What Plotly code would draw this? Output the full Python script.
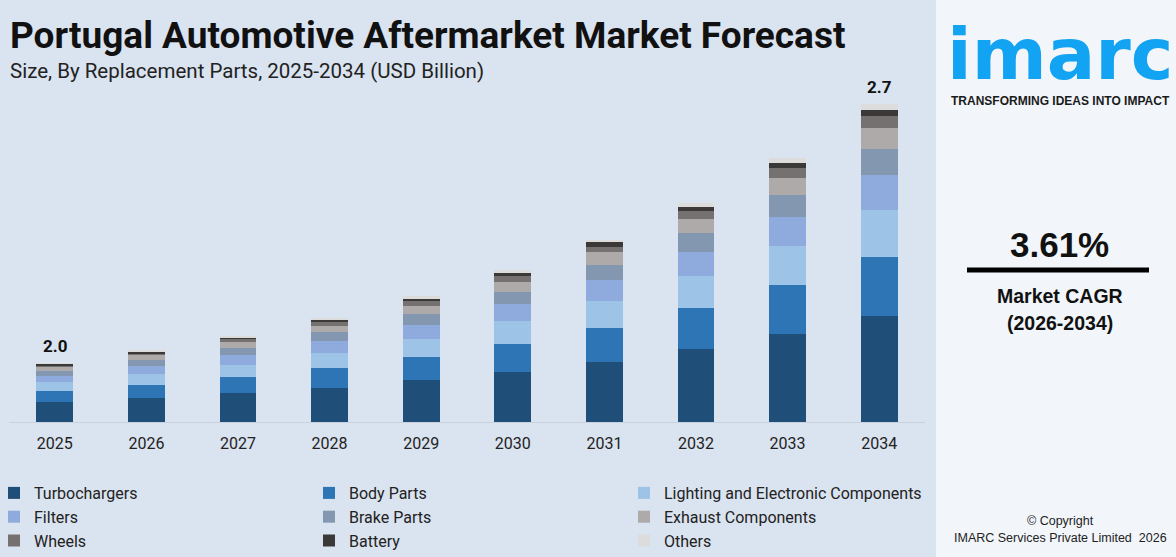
import plotly.graph_objects as go

W, H = 1176, 557

years = ["2025", "2026", "2027", "2028", "2029", "2030", "2031", "2032", "2033", "2034"]
total_labels = ["2.0", "", "", "", "", "", "", "", "", "2.7"]

turbochargers = [0.20, 0.24, 0.29, 0.34, 0.42, 0.50, 0.60, 0.73, 0.88, 1.06]
body_parts    = [0.11, 0.13, 0.16, 0.20, 0.23, 0.28, 0.34, 0.41, 0.49, 0.59]
lighting      = [0.09, 0.11, 0.12, 0.15, 0.18, 0.23, 0.27, 0.32, 0.39, 0.47]
filters       = [0.06, 0.08, 0.10, 0.12, 0.14, 0.17, 0.21, 0.24, 0.29, 0.35]
brake_parts   = [0.05, 0.06, 0.07, 0.09, 0.11, 0.12, 0.15, 0.19, 0.22, 0.26]
exhaust       = [0.04, 0.047, 0.06, 0.06, 0.08, 0.10, 0.127, 0.14, 0.17, 0.21]
wheels        = [0.015, 0.02, 0.027, 0.04, 0.05, 0.06, 0.056, 0.08, 0.10, 0.12]
battery       = [0.015, 0.013, 0.02, 0.02, 0.02, 0.03, 0.044, 0.04, 0.05, 0.06]
others        = [0.007, 0.013, 0.01, 0.02, 0.03, 0.03, 0.023, 0.04, 0.05, 0.06]

series_names = ["Turbochargers", "Body Parts", "Lighting and Electronic Components",
                "Filters", "Brake Parts", "Exhaust Components",
                "Wheels", "Battery", "Others"]
series_values = [turbochargers, body_parts, lighting, filters, brake_parts,
                 exhaust, wheels, battery, others]
series_colors = ["#1f4e79", "#2e75b6", "#9dc3e6", "#8faadc", "#8497b0",
                 "#aeaaaa", "#767171", "#3b3838", "#dcdcdc"]

totals = [sum(v[i] for v in series_values) for i in range(len(years))]

fig = go.Figure()
for name, vals, col in zip(series_names, series_values, series_colors):
    fig.add_trace(go.Bar(x=years, y=vals, name=name, marker=dict(color=col, line=dict(width=0)),
                         hoverinfo="x+y+name"))

# total labels (category index positions on the category axis)
for i, (tot, lab) in enumerate(zip(totals, total_labels)):
    if lab:
        fig.add_annotation(x=i, y=tot, text="<b>%s</b>" % lab, showarrow=False,
                           yanchor="bottom", yshift=5, xref="x", yref="y",
                           font=dict(family="Roboto, Arial, sans-serif", size=17, color="#111111"))

def px(x):
    return x / W

def py(y):
    return 1 - y / H

PLOT_L, PLOT_R, PLOT_T, PLOT_B = 9, 925, 90, 422

fig.update_layout(
    width=W, height=H,
    margin=dict(l=0, r=0, t=0, b=0, autoexpand=False),
    paper_bgcolor="#dae3f0",
    plot_bgcolor="rgba(0,0,0,0)",
    barmode="stack",
    bargap=0.6,
    font=dict(family="Roboto, Arial, sans-serif", color="#222222"),
    xaxis=dict(type="category", categoryorder="array", categoryarray=years,
               range=[-0.5, len(years) - 0.5], autorange=False,
               domain=[px(PLOT_L), px(PLOT_R)], showgrid=False, showline=True,
               linecolor="#c9d1dc", linewidth=1, ticks="", zeroline=False, automargin=False,
               ticklabelstandoff=7,
               tickfont=dict(size=16, color="#222222"), fixedrange=True),
    yaxis=dict(domain=[py(PLOT_B), py(PLOT_T)], range=[0, (PLOT_B - PLOT_T) / 100], autorange=False,
               visible=False, showgrid=False, zeroline=False, fixedrange=True, automargin=False),
    showlegend=True,
    legend=dict(orientation="h", x=0, y=py(476), xanchor="left", yanchor="top",
                traceorder="normal", entrywidth=276, entrywidthmode="pixels", indentation=-6,
                font=dict(size=16, color="#222222"), bgcolor="rgba(0,0,0,0)",
                itemclick=False, itemdoubleclick=False),
)

# title/subtitle
fig.add_annotation(x=px(8), y=py(35), xref="paper", yref="paper", xanchor="left", yanchor="middle",
                   text="<b>Portugal Automotive Aftermarket Market Forecast</b>", showarrow=False,
                   font=dict(size=37, color="#111111", family="Roboto, Arial, sans-serif"))
fig.add_annotation(x=px(8), y=py(71), xref="paper", yref="paper", xanchor="left", yanchor="middle",
                   text="Size, By Replacement Parts, 2025-2034 (USD Billion)", showarrow=False,
                   font=dict(size=20.5, color="#222222", family="Roboto, Arial, sans-serif"))

# right panel
fig.add_shape(type="rect", xref="paper", yref="paper", x0=px(936), x1=1, y0=0, y1=1,
              fillcolor="#f2f6fa", line=dict(width=0), layer="below")
fig.add_annotation(x=px(1060), y=py(54), xref="paper", yref="paper", xanchor="center", yanchor="middle",
                   text="<b>imarc</b>", showarrow=False, height=62, valign="middle",
                   font=dict(size=72, color="#12a3f2", family="DejaVu Sans, sans-serif"))
fig.add_annotation(x=px(1060), y=py(101), xref="paper", yref="paper", xanchor="center", yanchor="middle",
                   text="<b>TRANSFORMING IDEAS INTO IMPACT</b>", showarrow=False,
                   font=dict(size=12, color="#1a1a1a", family="Liberation Sans, Arial, sans-serif"))
fig.add_annotation(x=px(1059), y=py(245), xref="paper", yref="paper", xanchor="center", yanchor="middle",
                   text="<b>3.61%</b>", showarrow=False,
                   font=dict(size=35, color="#111111", family="Liberation Sans, Arial, sans-serif"))
fig.add_shape(type="line", xref="paper", yref="paper", x0=px(967), x1=px(1149), y0=py(270), y1=py(270),
              line=dict(color="#000000", width=5))
fig.add_annotation(x=px(1060), y=py(296), xref="paper", yref="paper", xanchor="center", yanchor="middle",
                   text="<b>Market CAGR</b>", showarrow=False,
                   font=dict(size=19.5, color="#111111", family="Liberation Sans, Arial, sans-serif"))
fig.add_annotation(x=px(1060), y=py(323), xref="paper", yref="paper", xanchor="center", yanchor="middle",
                   text="<b>(2026-2034)</b>", showarrow=False,
                   font=dict(size=19.5, color="#111111", family="Liberation Sans, Arial, sans-serif"))
fig.add_annotation(x=px(1060), y=py(521), xref="paper", yref="paper", xanchor="center", yanchor="middle",
                   text="© Copyright", showarrow=False,
                   font=dict(size=12.5, color="#222222", family="Liberation Sans, Arial, sans-serif"))
fig.add_annotation(x=px(1060), y=py(538), xref="paper", yref="paper", xanchor="center", yanchor="middle",
                   text="IMARC Services Private Limited  2026", showarrow=False,
                   font=dict(size=12.5, color="#222222", family="Liberation Sans, Arial, sans-serif"))

fig.write_html("out.html", config={"displayModeBar": False})
